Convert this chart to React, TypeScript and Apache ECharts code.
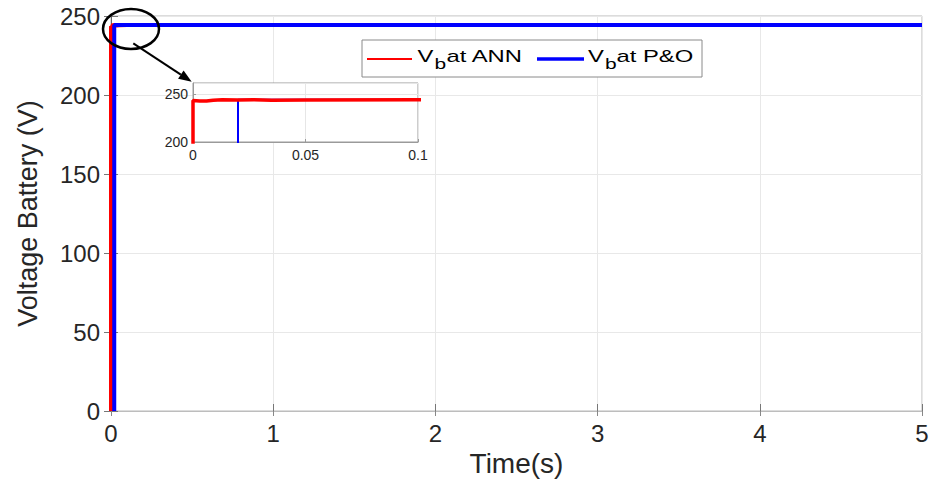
import React, { useEffect, useRef } from "react";
import * as echarts from "echarts";

// ---- data ----
const annT = [0, 0, 0.003, 0.006, 0.009, 0.013, 0.02, 0.027, 0.035, 0.05, 0.1, 5];
const annV = [0, 243.5, 243.2, 243.0, 243.9, 244.4, 244.1, 244.5, 244.0, 244.2, 244.3, 244.3];
const poT = [0.02, 0.02, 5];
const poV = [0, 244.3, 244.3];
const mainXTicks = { min: 0, max: 5, interval: 1 };
const mainYTicks = { min: 0, max: 250, interval: 50 };
const insetXTicks = { min: 0, max: 0.1, interval: 0.05 };
const insetYTicks = { min: 200, max: 262, interval: 50 };
const legendNames = ["at ANN", "at P&O"];

const FONT = "Liberation Sans, Arial, Helvetica, sans-serif";
const TXT = "#262626";

export default function App() {
  const ref = useRef<HTMLDivElement>(null);
  useEffect(() => {
    if (!ref.current) return;
    const chart = echarts.init(ref.current, undefined, { renderer: "svg" });
    const ann = annT.map((t, i) => [t, annV[i]]);
    const po = poT.map((t, i) => [t, poV[i]]);

    const tip = [191.7, 81.7];
    const st = [133.3, 43.3];
    const dx = tip[0] - st[0], dy = tip[1] - st[1];
    const L = Math.hypot(dx, dy);
    const ux = dx / L, uy = dy / L;
    const base = [tip[0] - 13 * ux, tip[1] - 13 * uy];
    const px = -uy * 5, py = ux * 5;

    const legText = (x: number, y: number, text: string, fs: number) => ({
      type: "text",
      x,
      y,
      scaleX: 1.4,
      z: 11,
      style: { text, fontSize: fs, fontFamily: FONT, fill: "#000", textAlign: "left", textVerticalAlign: "middle" },
    });

    chart.setOption({
      animation: false,
      textStyle: { fontFamily: FONT },
      grid: [
        { left: 111, top: 16, width: 811, height: 395, show: true, borderColor: "#b8b8b8", borderWidth: 1, backgroundColor: "transparent" },
        { left: 193, top: 83, width: 225, height: 59, show: true, borderColor: "#9a9a9a", borderWidth: 1, backgroundColor: "#ffffff", z: 1 },
      ],
      xAxis: [
        {
          type: "value", gridIndex: 0, ...mainXTicks,
          name: "Time(s)", nameLocation: "middle", nameGap: 38,
          nameTextStyle: { fontSize: 28, color: TXT, fontFamily: FONT },
          axisLine: { show: true, lineStyle: { color: "#777", width: 1 } },
          axisTick: { show: true, inside: true, length: 7, lineStyle: { color: "#777" } },
          axisLabel: { fontSize: 24, color: TXT, margin: 10, fontFamily: FONT },
          splitLine: { show: true, lineStyle: { color: "#e8e8e8", width: 1 } },
        },
        {
          type: "value", gridIndex: 0, position: "top", ...mainXTicks,
          axisLine: { show: true, lineStyle: { color: "#bdbdbd", width: 1 } },
          axisTick: { show: true, inside: true, length: 5, lineStyle: { color: "#888" } },
          axisLabel: { show: false },
          splitLine: { show: false },
        },
        {
          type: "value", gridIndex: 1, ...insetXTicks, z: 2,
          axisLine: { show: true, lineStyle: { color: "#9a9a9a", width: 1 } },
          axisTick: { show: true, inside: true, length: 3, lineStyle: { color: "#9a9a9a" } },
          axisLabel: { fontSize: 14, color: TXT, margin: 6, fontFamily: FONT, formatter: (v: number) => String(Number(v.toFixed(3))) },
          splitLine: { show: true, lineStyle: { color: "#e6e6e6", width: 1 } },
        },
      ],
      yAxis: [
        {
          type: "value", gridIndex: 0, ...mainYTicks,
          name: "Voltage Battery (V)", nameLocation: "middle", nameGap: 70,
          nameTextStyle: { fontSize: 27, color: TXT, fontFamily: FONT },
          axisLine: { show: true, lineStyle: { color: "#777", width: 1 } },
          axisTick: { show: true, inside: true, length: 7, lineStyle: { color: "#777" } },
          axisLabel: { fontSize: 24, color: TXT, margin: 11, fontFamily: FONT },
          splitLine: { show: true, lineStyle: { color: "#e8e8e8", width: 1 } },
        },
        {
          type: "value", gridIndex: 0, position: "right", ...mainYTicks,
          axisLine: { show: true, lineStyle: { color: "#666", width: 1 } },
          axisTick: { show: true, inside: true, length: 7, lineStyle: { color: "#777" } },
          axisLabel: { show: false },
          splitLine: { show: false },
        },
        {
          type: "value", gridIndex: 1, ...insetYTicks, z: 2,
          axisLine: { show: true, lineStyle: { color: "#9a9a9a", width: 1 } },
          axisTick: { show: true, inside: true, length: 3, lineStyle: { color: "#9a9a9a" } },
          axisLabel: { fontSize: 14, color: TXT, margin: 5, fontFamily: FONT, showMaxLabel: false },
          splitLine: { show: true, lineStyle: { color: "#e6e6e6", width: 1 } },
        },
      ],
      series: [
        { name: "Vb at ANN", type: "line", xAxisIndex: 0, yAxisIndex: 0, data: ann, symbol: "none", lineStyle: { color: "#ff0000", width: 4 }, itemStyle: { color: "#ff0000" }, z: 2 },
        { name: "Vb at P&O", type: "line", xAxisIndex: 0, yAxisIndex: 0, data: po, symbol: "none", lineStyle: { color: "#0000ff", width: 4 }, itemStyle: { color: "#0000ff" }, z: 3 },
        { name: "Vb at P&O inset", type: "line", xAxisIndex: 2, yAxisIndex: 2, data: po, symbol: "none", lineStyle: { color: "#0000ff", width: 2 }, z: 4 },
        { name: "Vb at ANN inset", type: "line", xAxisIndex: 2, yAxisIndex: 2, data: ann, symbol: "none", lineStyle: { color: "#ff0000", width: 3.5 }, z: 5 },
      ],
      graphic: [
        { type: "ellipse", z: 10, shape: { cx: 131, cy: 29, rx: 28, ry: 20 }, style: { fill: "none", stroke: "#000", lineWidth: 2.5 } },
        { type: "line", z: 10, shape: { x1: st[0], y1: st[1], x2: base[0], y2: base[1] }, style: { stroke: "#000", lineWidth: 2 } },
        { type: "polygon", z: 10, shape: { points: [tip, [base[0] + px, base[1] + py], [base[0] - px, base[1] - py]] }, style: { fill: "#000" } },
        { type: "rect", z: 10, shape: { x: 362, y: 40, width: 340, height: 37 }, style: { fill: "#fff", stroke: "#8a8a8a", lineWidth: 1 } },
        { type: "line", z: 11, shape: { x1: 367, y1: 59, x2: 412, y2: 59 }, style: { stroke: "#ff0000", lineWidth: 2 } },
        { type: "line", z: 11, shape: { x1: 537, y1: 59, x2: 584, y2: 59 }, style: { stroke: "#0000ff", lineWidth: 3.5 } },
        legText(417.5, 56, "V", 17),
        legText(434.5, 64, "b", 15),
        legText(446.5, 56, legendNames[0], 17),
        legText(588, 56, "V", 17),
        legText(605, 64, "b", 15),
        legText(616.5, 56, legendNames[1], 17),
      ],
    });
    return () => chart.dispose();
  }, []);
  return <div ref={ref} style={{ position: "absolute", left: 0, top: 0, width: 934, height: 486 }} />;
}
